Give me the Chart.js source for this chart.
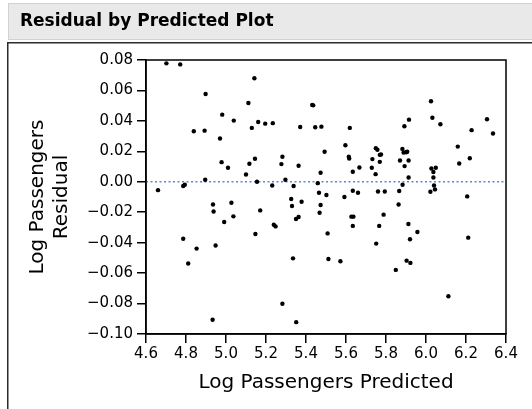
<!DOCTYPE html>
<html>
<head>
<meta charset="utf-8">
<script src="https://cdn.jsdelivr.net/npm/chart.js@4.4.1/dist/chart.umd.min.js"></script>
<style>
  html, body { margin: 0; padding: 0; background: #ffffff; }
  #wrap { position: relative; width: 532px; height: 409px; }
  canvas { display: block; }
</style>
</head>
<body>
<div id="wrap"><canvas id="c" width="532" height="409"></canvas></div>
<script>
const chartTitle = "Residual by Predicted Plot";
const xTitle = "Log Passengers Predicted";
const yTitle = ["Log Passengers", "Residual"];

const predicted = [
  4.660, 4.702, 4.771, 4.786, 4.794, 4.786, 4.811, 4.839, 4.853, 4.893,
  4.898, 4.896, 4.933, 4.935, 4.938, 4.948, 4.970, 4.978, 4.981, 4.991,
  5.010, 5.027, 5.037, 5.039, 5.100, 5.112, 5.117, 5.129, 5.142, 5.145,
  5.147, 5.155, 5.161, 5.171, 5.196, 5.231, 5.234, 5.239, 5.248, 5.277,
  5.282, 5.282, 5.297, 5.326, 5.330, 5.335, 5.338, 5.350, 5.363, 5.351,
  5.363, 5.371, 5.378, 5.431, 5.436, 5.446, 5.459, 5.465, 5.468, 5.473,
  5.473, 5.477, 5.493, 5.502, 5.508, 5.512, 5.572, 5.592, 5.597, 5.614,
  5.616, 5.619, 5.627, 5.637, 5.634, 5.634, 5.634, 5.660, 5.667, 5.729,
  5.732, 5.748, 5.749, 5.757, 5.751, 5.760, 5.766, 5.769, 5.775, 5.769,
  5.788, 5.794, 5.849, 5.863, 5.866, 5.870, 5.882, 5.888, 5.901, 5.906,
  5.883, 5.892, 5.893, 5.903, 5.912, 5.913, 5.913, 5.915, 5.920, 5.922,
  5.957, 6.022, 6.025, 6.027, 6.032, 6.037, 6.037, 6.040, 6.045, 6.049,
  6.072, 6.112, 6.159, 6.166, 6.206, 6.211, 6.219, 6.228, 6.305, 6.335
];
const residual = [
  -0.0055, 0.0778, 0.0771, -0.0028, -0.0020, -0.0374, -0.0537, 0.0332, -0.0439, 0.0336,
  0.0577, 0.0013, -0.0906, -0.0149, -0.0195, -0.0419, 0.0284, 0.0129, 0.0441, -0.0264,
  0.0092, -0.0138, -0.0227, 0.0402, 0.0048, 0.0518, 0.0118, 0.0354, 0.0680, 0.0151,
  -0.0343, 0.0000, 0.0393, -0.0188, 0.0382, -0.0024, 0.0385, -0.0282, -0.0293, 0.0116,
  0.0164, -0.0801, 0.0013, -0.0113, -0.0159, -0.0503, -0.0028, -0.0245, -0.0231, -0.0922,
  0.0105, 0.0360, -0.0131, 0.0505, 0.0502, 0.0358, -0.0009, -0.0072, -0.0203, 0.0059,
  -0.0153, 0.0362, 0.0197, -0.0087, -0.0339, -0.0507, -0.0522, -0.0100, 0.0240, 0.0164,
  0.0153, 0.0354, -0.0229, -0.0229, -0.0290, 0.0066, -0.0059, -0.0072, 0.0094, 0.0092,
  0.0149, 0.0050, 0.0221, 0.0210, -0.0406, -0.0064, -0.0290, 0.0177, 0.0179, 0.0131,
  -0.0216, -0.0064, -0.0579, -0.0149, -0.0061, 0.0140, 0.0216, 0.0192, 0.0194, 0.0197,
  -0.0020, 0.0365, 0.0103, -0.0518, -0.0277, 0.0140, 0.0028, 0.0408, -0.0378, -0.0533,
  -0.0330, -0.0066, 0.0529, 0.0087, 0.0421, 0.0064, 0.0028, -0.0024, -0.0050, 0.0092,
  0.0378, -0.0752, 0.0231, 0.0120, -0.0096, -0.0367, 0.0155, 0.0339, 0.0411, 0.0317
];

const xRange = [4.6, 6.4];
const yRange = [-0.10, 0.08];
const xStep = 0.2;
const yStep = 0.02;
const zeroLine = [0, 0];

const points = predicted.map((p, i) => ({ x: p, y: residual[i] }));
const refLine = xRange.map((x, i) => ({ x: x, y: zeroLine[i] }));

const AREA = { left: 146, right: 506, top: 60, bottom: 334 };
const W = 532, H = 409;
const tickFont = { family: "'DejaVu Sans', sans-serif", size: 15 };
const titleFont = { family: "'DejaVu Sans', sans-serif", size: 20 };

const framePlugin = {
  id: 'frame',
  beforeDraw(chart) {
    const ctx = chart.ctx;
    ctx.save();
    // title bar
    ctx.fillStyle = '#e9e9e9';
    ctx.fillRect(8, 3, W - 8, 37);
    ctx.strokeStyle = '#d2d2d2';
    ctx.lineWidth = 1;
    ctx.strokeRect(8.5, 3.5, W, 36);
    ctx.fillStyle = '#000000';
    ctx.font = "bold 17px 'DejaVu Sans', sans-serif";
    ctx.textBaseline = 'middle';
    ctx.textAlign = 'left';
    ctx.fillText(chartTitle, 20, 22);
    // outer box
    ctx.strokeStyle = '#2a2a2a';
    ctx.lineWidth = 1.5;
    ctx.strokeRect(7.75, 42.75, W + 10, H);
    ctx.restore();
  },
  afterDatasetsDraw(chart) {
    const ctx = chart.ctx;
    const a = chart.chartArea;
    ctx.save();
    ctx.strokeStyle = '#000000';
    ctx.lineWidth = 1.5;
    ctx.strokeRect(a.left, a.top, a.right - a.left, a.bottom - a.top);
    ctx.restore();
  }
};

new Chart(document.getElementById('c'), {
  type: 'scatter',
  data: {
    datasets: [
      {
        type: 'line',
        data: refLine,
        borderColor: '#4f8ce8',
        borderWidth: 1.5,
        borderDash: [2, 2.5],
        pointRadius: 0,
        fill: false,
        order: 2
      },
      {
        data: points,
        backgroundColor: '#000000',
        borderColor: '#000000',
        pointRadius: 2.2,
        pointBorderWidth: 0,
        order: 1
      }
    ]
  },
  options: {
    responsive: false,
    animation: false,
    devicePixelRatio: 1,
    layout: { padding: { top: AREA.top, right: W - AREA.right, left: 0, bottom: 0 } },
    plugins: { legend: { display: false }, tooltip: { enabled: false }, title: { display: false } },
    scales: {
      x: {
        type: 'linear',
        min: xRange[0], max: xRange[1],
        afterFit(s) { s.height = H - AREA.bottom; },
        ticks: {
          stepSize: xStep, color: '#000', font: tickFont, padding: 2, maxRotation: 0,
          callback: v => Number(v).toFixed(1)
        },
        grid: { drawOnChartArea: false, tickLength: 9, color: '#000', lineWidth: 1.5 },
        border: { display: true, color: '#000', width: 1.5 },
        title: { display: true, text: xTitle, color: '#000', font: titleFont, padding: { top: 0, bottom: 14 } }
      },
      y: {
        type: 'linear',
        min: yRange[0], max: yRange[1],
        afterFit(s) { s.width = AREA.left; },
        ticks: {
          stepSize: yStep, color: '#000', font: tickFont, padding: 4,
          callback: v => { const t = Math.abs(v) < 1e-9 ? '0.00' : Number(v).toFixed(2); return t.replace('-', '\u2212'); }
        },
        grid: { drawOnChartArea: false, tickLength: 9, color: '#000', lineWidth: 1.5 },
        border: { display: true, color: '#000', width: 1.5 },
        title: { display: true, text: yTitle, color: '#000', font: titleFont, padding: { top: 26, bottom: 0 } }
      }
    }
  },
  plugins: [framePlugin]
});
</script>
</body>
</html>
